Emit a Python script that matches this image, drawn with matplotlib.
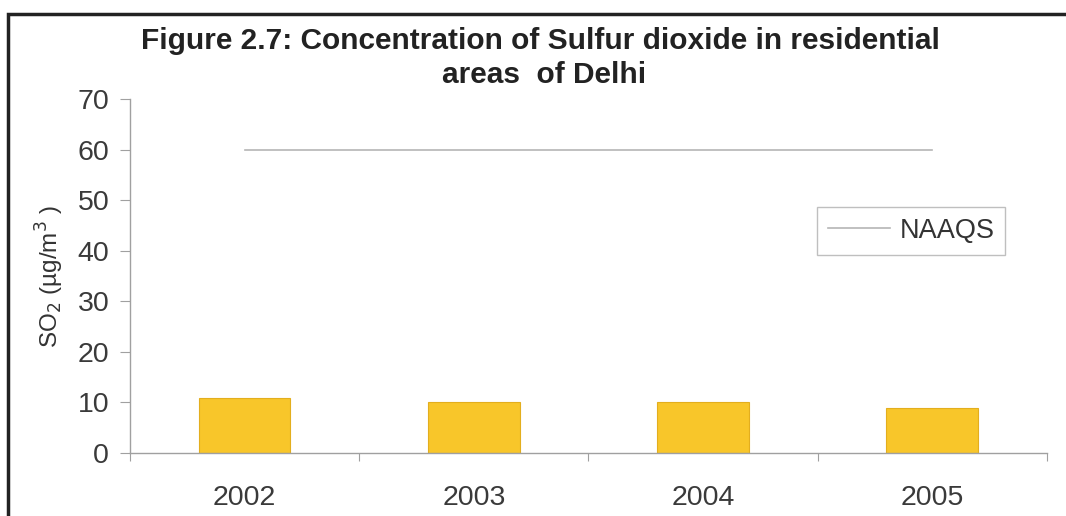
import matplotlib
matplotlib.use('Agg')
import matplotlib.pyplot as plt
from matplotlib.patches import Rectangle

plt.rcParams['font.family'] = ['Liberation Sans', 'DejaVu Sans']

years = ['2002', '2003', '2004', '2005']
so2 = [10.8, 10.0, 10.0, 9.0]
naaqs = [60, 60, 60, 60]
y_ticks = [0, 10, 20, 30, 40, 50, 60, 70]

fig = plt.figure(figsize=(10.66, 5.16), dpi=100)
ax = fig.add_axes([0.122, 0.122, 0.860, 0.686])

x = list(range(len(years)))
ax.bar(x, so2, width=0.4, color='#F8C62A', edgecolor='#E3AE1E', linewidth=0.8, zorder=2)
ax.plot(x, naaqs, color='#b5b5b5', linewidth=1.2, label='NAAQS', zorder=3)

ax.set_xlim(-0.5, 3.5)
ax.set_ylim(0, 70)
ax.set_yticks(y_ticks)
ax.set_xticks([i - 0.5 for i in range(len(years) + 1)])
ax.set_xticklabels([])
ax.set_xticks(x, minor=True)
ax.set_xticklabels(years, minor=True)

for s in ['top', 'right']:
    ax.spines[s].set_visible(False)
for s in ['left', 'bottom']:
    ax.spines[s].set_color('#a0a0a0')
    ax.spines[s].set_linewidth(1.0)

ax.tick_params(axis='y', colors='#a0a0a0', labelcolor='#3a3a3a', labelsize=20.5, length=7, pad=8)
ax.tick_params(axis='x', which='major', colors='#a0a0a0', length=6, direction='out')
ax.tick_params(axis='x', which='minor', length=0, labelsize=20.5, labelcolor='#3a3a3a', pad=23)

ax.set_ylabel('SO$_2$ (µg/m$^3$ )', fontsize=17.5, color='#333333', labelpad=8)

fig.text(0.507, 0.920, 'Figure 2.7: Concentration of Sulfur dioxide in residential',
         ha='center', va='center', fontsize=21.5, fontweight='bold', color='#222222')
fig.text(0.510, 0.855, 'areas  of Delhi',
         ha='center', va='center', fontsize=21.5, fontweight='bold', color='#222222')

leg = ax.legend(loc='upper left', bbox_to_anchor=(0.749, 0.695), fontsize=19.5,
                frameon=True, fancybox=False, handlelength=2.3, borderpad=0.4,
                handletextpad=0.35, borderaxespad=0)
leg.get_frame().set_edgecolor('#b0b0b0')
leg.get_frame().set_linewidth(1.0)
for t in leg.get_texts():
    t.set_color('#333333')

# outer frame around the figure
fig.patches.append(Rectangle((0.0075, -0.1), 1.2, 1.073, transform=fig.transFigure,
                             fill=False, edgecolor='#222222', linewidth=2.5))

fig.savefig('out.png', dpi=100)
